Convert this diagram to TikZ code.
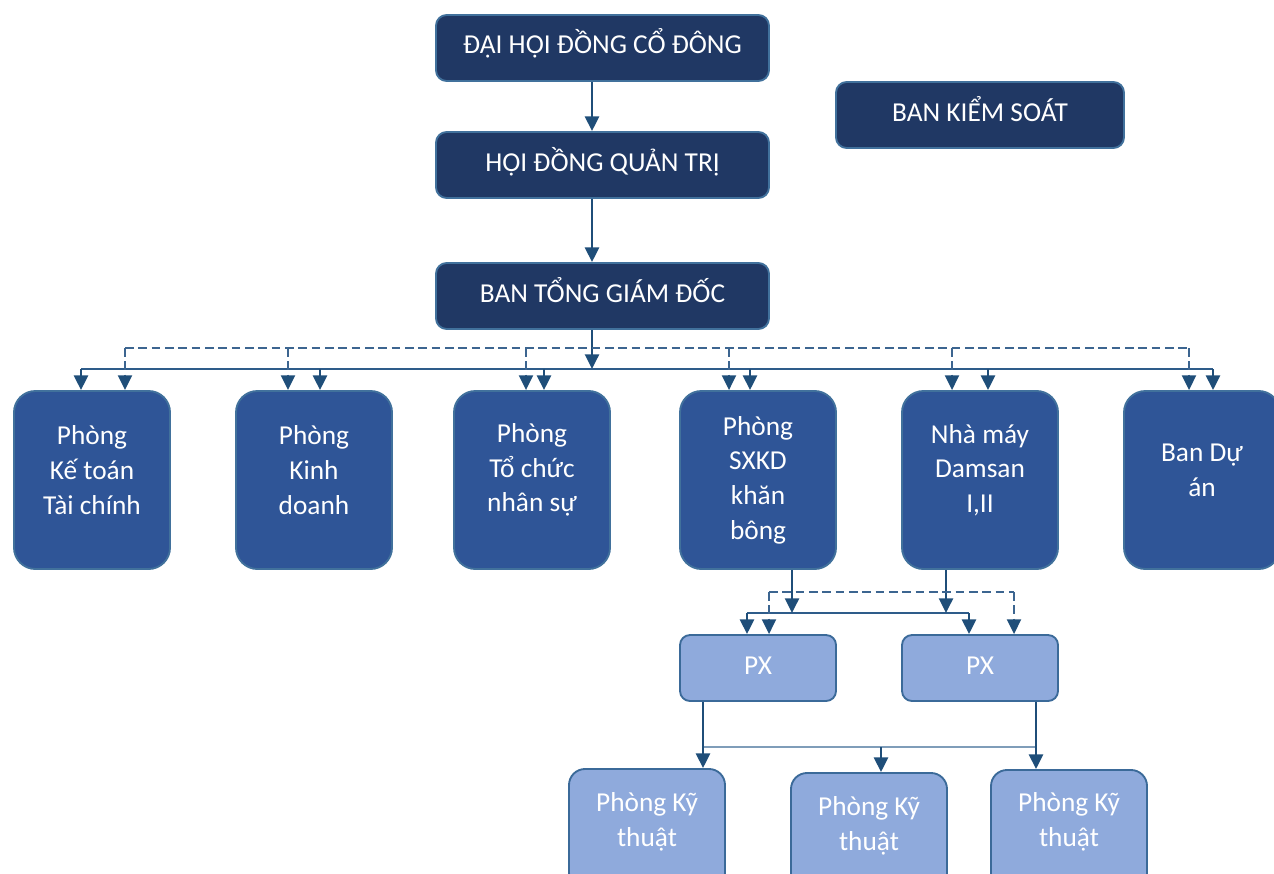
\documentclass[tikz,border=0pt]{standalone}
\usepackage{fontspec}
\setmainfont{Carlito}
\usetikzlibrary{arrows.meta}
\definecolor{navy}{HTML}{203864}
\definecolor{midblue}{HTML}{2F5597}
\definecolor{lightblue}{HTML}{8FAADC}
\definecolor{edgec}{HTML}{41719C}
\definecolor{edgel}{HTML}{3B6A99}
\definecolor{arrc}{HTML}{1F4E79}
\definecolor{busc}{HTML}{2E5C8A}
\definecolor{dashc}{HTML}{3C6590}
\definecolor{paleline}{HTML}{7F9DB9}
\begin{document}
\begin{tikzpicture}[x=0.75pt,y=-0.75pt,
  topbox/.style={draw=edgec, line width=1.4pt, fill=navy, rounded corners=8pt,
    minimum width=249.75pt, minimum height=49.5pt, text=white, inner sep=0pt,
    text height=9pt, text depth=0pt,
    font=\fontsize{20.5}{24}\selectfont},
  rowbox/.style={draw=edgec, line width=1.4pt, fill=midblue, rounded corners=16pt,
    minimum width=117pt, minimum height=133.5pt, inner sep=0pt},
  pxbox/.style={draw=edgel, line width=1.4pt, fill=lightblue, rounded corners=7.5pt,
    minimum width=117pt, minimum height=49.5pt, inner sep=0pt, text=white,
    text height=9pt, text depth=0pt,
    font=\fontsize{20.5}{24}\selectfont},
  botbox/.style={draw=edgel, line width=1.4pt, fill=lightblue, rounded corners=12pt,
    minimum width=117pt, minimum height=90pt, inner sep=0pt},
  txt/.style={text=white, align=center, inner sep=0pt, font=\fontsize{20.5}{26}\selectfont},
  mainarr/.style={draw=arrc, line width=1.8pt, -{Triangle[width=10.5pt,length=11pt]}},
  busline/.style={draw=busc, line width=1.2pt},
  droparr/.style={draw=arrc, line width=1.8pt, -{Triangle[width=10.5pt,length=11pt]}},
  dashline/.style={draw=dashc, line width=1.5pt, dash pattern=on 6.5pt off 3.5pt},
  dasharr/.style={draw=dashc, line width=1.5pt, dash pattern=on 6.5pt off 3.5pt,
    -{Triangle[width=10.5pt,length=11pt,color=arrc]}},
  paleln/.style={draw=paleline, line width=1.2pt}
]
\useasboundingbox (0,0) rectangle (1274,874);
\clip (0,0) rectangle (1274,874);

% top boxes
\node[topbox] (dh) at (602.5,48) {ĐẠI HỘI ĐỒNG CỔ ĐÔNG};
\node[topbox] (hd) at (602.5,165) {HỘI ĐỒNG QUẢN TRỊ};
\node[topbox] (bt) at (602.5,296) {BAN TỔNG GIÁM ĐỐC};
\node[topbox, minimum width=216pt] (bk) at (980,115) {BAN KIỂM SOÁT};

% row boxes
\node[rowbox] (b1) at (92,480) {};
\node[rowbox] (b2) at (314,480) {};
\node[rowbox] (b3) at (532,480) {};
\node[rowbox] (b4) at (758,480) {};
\node[rowbox] (b5) at (980,480) {};
\node[rowbox] (b6) at (1202,480) {};
\node[txt] (t1) at (92,470) {Phòng\\Kế toán\\Tài chính};
\node[txt] (t2) at (314,470) {Phòng\\Kinh\\doanh};
\node[txt] (t3) at (532,470) {Phòng\\Tổ chức\\nhân sự};
\node[txt] (t4) at (758,480) {Phòng\\SXKD\\khăn\\bông};
\node[txt] (t5) at (980,470) {Nhà máy\\Damsan\\I,II};
\node[txt] (t6) at (1202,470) {Ban Dự\\án};

% PX
\node[pxbox] (px1) at (758,668) {PX};
\node[pxbox] (px2) at (980,668) {PX};

% bottom boxes
\node[botbox] (k1) at (647,829) {};
\node[botbox] (k2) at (869,833) {};
\node[botbox] (k3) at (1069,830) {};
\node[txt] (u1t) at (647,822) {Phòng Kỹ\\thuật};
\node[txt] (u2t) at (869,826) {Phòng Kỹ\\thuật};
\node[txt] (u3t) at (1069,822) {Phòng Kỹ\\thuật};

% main column
\coordinate (cx) at (592,0);
\coordinate (bus) at (592,369);
\draw[mainarr] (dh.south -| cx) -- (hd.north -| cx);
\draw[mainarr] (hd.south -| cx) -- (bt.north -| cx);
\draw[mainarr] (bt.south -| cx) -- (bus);

% solid bus
\coordinate (s1) at (81,369);
\coordinate (s2) at (320,369);
\coordinate (s3) at (544,369);
\coordinate (s4) at (750,369);
\coordinate (s5) at (988,369);
\coordinate (s6) at (1213,369);
\draw[busline] (s1) -- (s6);
\draw[droparr] (s1) -- (s1 |- b1.north);
\draw[droparr] (s2) -- (s2 |- b2.north);
\draw[droparr] (s3) -- (s3 |- b3.north);
\draw[droparr] (s4) -- (s4 |- b4.north);
\draw[droparr] (s5) -- (s5 |- b5.north);
\draw[droparr] (s6) -- (s6 |- b6.north);

% dashed bus
\coordinate (d1) at (125,348);
\coordinate (d2) at (288,348);
\coordinate (d3) at (526,348);
\coordinate (d4) at (729,348);
\coordinate (d5) at (952,348);
\coordinate (d6) at (1189,348);
\draw[dashline] (d1) -- (d6);
\draw[dasharr] (d1) -- (d1 |- b1.north);
\draw[dasharr] (d2) -- (d2 |- b2.north);
\draw[dasharr] (d3) -- (d3 |- b3.north);
\draw[dasharr] (d4) -- (d4 |- b4.north);
\draw[dasharr] (d5) -- (d5 |- b5.north);
\draw[dasharr] (d6) -- (d6 |- b6.north);

% to PX
\coordinate (p1) at (792,613);
\coordinate (p2) at (946,613);
\coordinate (q1) at (747,613);
\coordinate (q2) at (969,613);
\coordinate (r1) at (769,592);
\coordinate (r2) at (1014,592);
\draw[busline] (q1) -- (q2);
\draw[mainarr] (b4.south -| p1) -- (p1);
\draw[mainarr] (b5.south -| p2) -- (p2);
\draw[droparr] (q1) -- (q1 |- px1.north);
\draw[droparr] (q2) -- (q2 |- px2.north);
\draw[dashline] (r1) -- (r2);
\draw[dasharr] (r1) -- (r1 |- px1.north);
\draw[dasharr] (r2) -- (r2 |- px2.north);

% to bottom
\coordinate (v1) at (703,747);
\coordinate (v2) at (1036,747);
\coordinate (v3) at (881,747);
\draw[paleln] (v1) -- (v2);
\draw[mainarr] (px1.south -| v1) -- (v1 |- k1.north);
\draw[mainarr] (px2.south -| v2) -- (v2 |- k3.north);
\draw[droparr] (v3) -- (v3 |- k2.north);
\end{tikzpicture}
\end{document}
